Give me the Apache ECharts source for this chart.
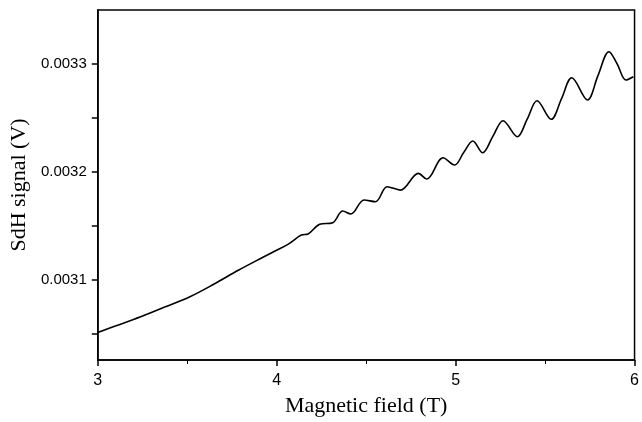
<!DOCTYPE html>
<html>
<head>
<meta charset="utf-8">
<script src="https://cdn.jsdelivr.net/npm/echarts@6/dist/echarts.min.js"></script>
<style>
  html, body { margin: 0; padding: 0; background: #fff; }
  #chart { width: 642px; height: 422px; }
</style>
</head>
<body>
<div id="chart"></div>
<script>
// magnetic field (T)
var field = [
    3.000, 3.098, 3.236, 3.374, 3.512, 3.650, 3.788, 3.926, 3.991, 4.065,
    4.138, 4.175, 4.240, 4.313, 4.369, 4.414, 4.488, 4.552, 4.617, 4.691,
    4.792, 4.838, 4.930, 4.994, 5.045, 5.096, 5.151, 5.208, 5.265, 5.345,
    5.400, 5.455, 5.534, 5.592, 5.649, 5.737, 5.795, 5.857, 5.903, 5.952,
    5.993
];
// SdH signal (V)
var signal = [
    0.0030514, 0.0030574, 0.0030657, 0.0030750, 0.0030843, 0.0030963, 0.0031093, 0.0031213, 0.0031269, 0.0031333,
    0.0031417, 0.0031426, 0.0031516, 0.0031531, 0.0031639, 0.0031611, 0.0031741, 0.0031725, 0.0031864, 0.0031833,
    0.0031988, 0.0031935, 0.0032132, 0.0032065, 0.0032180, 0.0032287, 0.0032179, 0.0032330, 0.0032475, 0.0032327,
    0.0032490, 0.0032660, 0.0032488, 0.0032680, 0.0032873, 0.0032667, 0.0032890, 0.0033114, 0.0033000, 0.0032852,
    0.0032882
];
var yLabels = [0.0031, 0.0032, 0.0033];
var yTicks = [0.00305, 0.0031, 0.00315, 0.0032, 0.00325, 0.0033];

var pts = [];
for (var i = 0; i < field.length; i++) {
    pts.push([field[i], signal[i]]);
}

var chart = echarts.init(document.getElementById('chart'), null, {renderer: 'canvas'});

chart.setOption({
    animation: false,
    backgroundColor: '#fff',
    grid: {
        left: 97, right: 3, top: 10, bottom: 62,
        show: true, borderColor: '#000', borderWidth: 1.5
    },
    xAxis: {
        type: 'value',
        min: 3, max: 6, interval: 1,
        name: 'Magnetic field (T)',
        nameLocation: 'middle',
        nameGap: 35,
        nameTextStyle: {fontFamily: 'Liberation Serif', fontSize: 22, color: '#000'},
        axisLine: {show: true, lineStyle: {color: '#000', width: 1.5}},
        axisTick: {show: true, length: 6, inside: false, lineStyle: {color: '#000', width: 1.5}},
        minorTick: {show: true, splitNumber: 2, length: 4, lineStyle: {color: '#000', width: 1}},
        splitLine: {show: false},
        minorSplitLine: {show: false},
        axisLabel: {
            margin: 13, color: '#000', fontFamily: 'Liberation Sans', fontSize: 16,
            showMinLabel: true, showMaxLabel: true
        }
    },
    yAxis: {
        type: 'value',
        min: 0.003026, max: 0.00335,
        name: 'SdH signal (V)',
        nameLocation: 'middle',
        nameGap: 66,
        nameTextStyle: {fontFamily: 'Liberation Serif', fontSize: 22, color: '#000'},
        axisLine: {show: true, lineStyle: {color: '#000', width: 1.5}},
        axisTick: {show: true, length: 6, customValues: yTicks, lineStyle: {color: '#000', width: 1.5}},
        splitLine: {show: false},
        axisLabel: {
            margin: 11, color: '#000', fontFamily: 'Liberation Sans', fontSize: 15,
            customValues: yLabels,
            formatter: function (v) { return v.toFixed(4); }
        }
    },
    series: [{
        type: 'line',
        data: pts,
        smooth: 0.35,
        symbol: 'none',
        lineStyle: {color: '#000', width: 1.6}
    }]
});
</script>
</body>
</html>
